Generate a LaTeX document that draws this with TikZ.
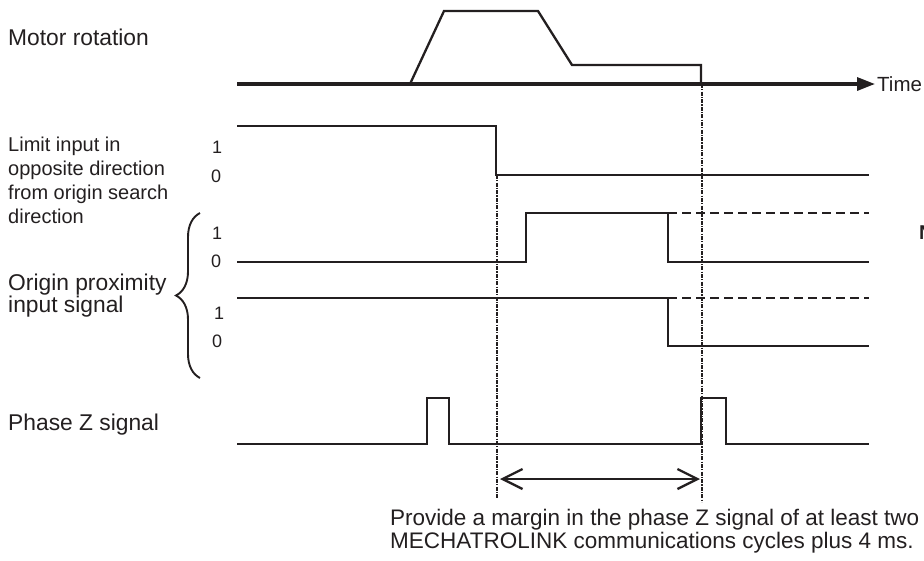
\documentclass[tikz,border=0pt]{standalone}
\usepackage{fontspec}
\setmainfont{Liberation Sans}
\usetikzlibrary{arrows.meta,decorations.pathreplacing}
\definecolor{ink}{RGB}{35,31,32}
\begin{document}
\begin{tikzpicture}[x=1pt,y=-1pt,
  sig/.style={line width=2.3pt, draw=ink, line join=miter},
  dsig/.style={line width=2.3pt, draw=ink, dash pattern=on 9pt off 5pt},
  guide/.style={line width=2.4pt, draw=ink, dash pattern=on 4pt off 1.2pt on 1.2pt off 1.2pt},
  lbl/.style={font=\fontsize{22.8}{23}\selectfont, text=ink, inner sep=0pt, anchor=base west},
  small/.style={font=\fontsize{20}{24}\selectfont, text=ink, inner sep=0pt, anchor=base west},
  lvl/.style={font=\fontsize{18}{20}\selectfont, text=ink, inner sep=0pt, anchor=base west}]
\useasboundingbox (0,0) rectangle (924,560);

% time axis
\coordinate (axL) at (237,84);
\coordinate (axR) at (875,84);
\draw[line width=3.2pt, ink, -{Triangle[length=18pt,width=13pt]}] (axL) -- (axR);
\node[lbl, font=\fontsize{20.5}{22}\selectfont] (time) at (877,91) {Time};

% motor rotation
\draw[sig] (410,84) -- (444,11) -- (538,11) -- (572,65) -- (701,65) -- (701,84);

% limit input
\draw[sig] (237,126) -- (496,126) -- (496,175) -- (869,175);

% origin proximity 1
\draw[sig] (237,262) -- (526,262) -- (526,213) -- (668,213) -- (668,262) -- (869,262);
\draw[dsig] (668,213) -- (869,213);

% origin proximity 2
\draw[sig] (237,298) -- (668,298) -- (668,346) -- (869,346);
\draw[dsig] (668,298) -- (869,298);

% phase Z
\draw[sig] (237,444) -- (427,444) -- (427,398) -- (449,398) -- (449,444) -- (701,444)
  -- (701,398) -- (726,398) -- (726,444) -- (869,444);

% guides
\coordinate (g1t) at (497,175);
\coordinate (g1b) at (497,498);
\coordinate (g2t) at (702,84);
\coordinate (g2b) at (702,502);
\draw[guide] (g1t) -- (g1b);
\draw[guide] (g2t) -- (g2b);

% margin arrow
\coordinate (mA) at (500,479);
\coordinate (mB) at (700,479);
\draw[line width=2.3pt, ink, {Straight Barb[length=20pt,width=20pt]}-{Straight Barb[length=20pt,width=20pt]}] (mA) -- (mB);

% brace
\draw[ink, line width=1.9pt, decorate, decoration={brace, amplitude=24pt}] (200,378) -- (200,213);

% labels
\node[lbl] (motor) at (8,45) {Motor rotation};
\node[small] (lim1) at (8,151) {Limit input in};
\node[small] (lim2) at (8,175) {opposite direction};
\node[small] (lim3) at (8,199) {from origin search};
\node[small] (lim4) at (8,223) {direction};
\node[lbl] (org1) at (8,290) {Origin proximity};
\node[lbl] (org2) at (8,312) {input signal};
\node[lbl] (phz) at (8,430) {Phase Z signal};

\node[lvl] (l1a) at (212,153) {1};
\node[lvl] (l0a) at (211,182) {0};
\node[lvl] (l1b) at (212,239) {1};
\node[lvl] (l0b) at (211,267) {0};
\node[lvl] (l1c) at (214,319) {1};
\node[lvl] (l0c) at (212,347) {0};

\node[lbl, font=\fontsize{22.5}{23}\selectfont] (note1) at (390,525) {Provide a margin in the phase Z signal of at least two};
\node[lbl, font=\fontsize{22.5}{23}\selectfont] (note2) at (390,548) {MECHATROLINK communications cycles plus 4 ms.};

\node[lbl, font=\fontsize{20}{22}\selectfont\bfseries] (nn) at (919,239) {N};
\end{tikzpicture}
\end{document}
